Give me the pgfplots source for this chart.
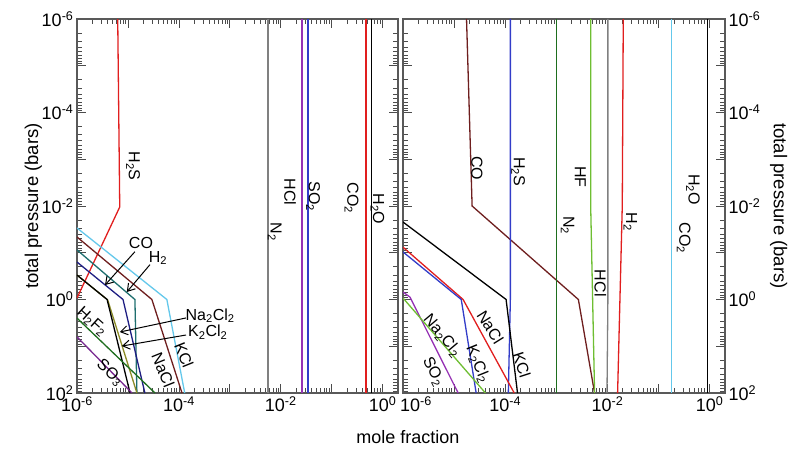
\documentclass[border=0pt]{standalone}
\usepackage{fontspec}
\setmainfont{Liberation Sans}
\usepackage{pgfplots}
\pgfplotsset{compat=1.18}
\usetikzlibrary{arrows.meta}
\definecolor{myred}{RGB}{225,30,30}
\definecolor{mygray}{RGB}{128,128,128}
\definecolor{mypurple}{RGB}{150,50,180}
\definecolor{myblue}{RGB}{50,60,200}
\definecolor{mynavy}{RGB}{30,30,130}
\definecolor{mycyan}{RGB}{100,200,235}
\definecolor{mymaroon}{RGB}{110,30,30}
\definecolor{myteal}{RGB}{30,110,110}
\definecolor{myolive}{RGB}{140,140,40}
\definecolor{mygreen}{RGB}{30,110,30}
\definecolor{mylgreen}{RGB}{110,190,50}
\newcommand{\tl}[1]{10\textsuperscript{#1}}
\newcommand{\labfont}{\fontsize{16}{18}\selectfont}
\begin{document}
\begin{tikzpicture}
\useasboundingbox (0,0) rectangle (800pt,453pt);
% ---------------- left panel ----------------
\begin{axis}[name=L, scale only axis, width=321pt, height=374pt, at={(77pt,60pt)}, anchor=south west,
  xmode=log, ymode=log, y dir=reverse,
  xmin=1e-6, xmax=1.995, ymin=1e-6, ymax=1e2,
  xtick={1e-6,1e-5,1e-4,1e-3,1e-2,1e-1,1},
  ytick={1e-6,1e-5,1e-4,1e-3,1e-2,1e-1,1,10,100},
  xticklabels={\tl{-6},,\tl{-4},,\tl{-2},,\tl{0}},
  yticklabels={\tl{-6},,\tl{-4},,\tl{-2},,\tl{0},,\tl{2}},
  minor xtick={2e-6,3e-6,4e-6,5e-6,6e-6,7e-6,8e-6,9e-6,2e-5,3e-5,4e-5,5e-5,6e-5,7e-5,8e-5,9e-5,2e-4,3e-4,4e-4,5e-4,6e-4,7e-4,8e-4,9e-4,2e-3,3e-3,4e-3,5e-3,6e-3,7e-3,8e-3,9e-3,0.02,0.03,0.04,0.05,0.06,0.07,0.08,0.09,0.2,0.3,0.4,0.5,0.6,0.7,0.8,0.9},
  minor ytick={2e-6,3e-6,4e-6,5e-6,6e-6,7e-6,8e-6,9e-6,2e-5,3e-5,4e-5,5e-5,6e-5,7e-5,8e-5,9e-5,2e-4,3e-4,4e-4,5e-4,6e-4,7e-4,8e-4,9e-4,2e-3,3e-3,4e-3,5e-3,6e-3,7e-3,8e-3,9e-3,0.02,0.03,0.04,0.05,0.06,0.07,0.08,0.09,0.2,0.3,0.4,0.5,0.6,0.7,0.8,0.9,2,3,4,5,6,7,8,9,20,30,40,50,60,70,80,90},
  tick align=inside, major tick length=9pt, minor tick length=5pt,
  major tick style={color=black!70, line width=0.8pt},
  minor tick style={color=black!70, line width=0.7pt},
  axis line style={black!65, line width=1.2pt},
  tick label style={font=\fontsize{18}{20}\selectfont},
  label style={font=\fontsize{18.5}{22}\selectfont},
  ylabel={total pressure (bars)}, ylabel shift=-7pt]
\addplot[myred, line width=1.3pt] coordinates {(6.3e-6,1e-6) (6.9e-6,0.0105) (1e-6,0.93)};
\addplot[mygray, line width=1.3pt] coordinates {(5.6e-3,1e-6) (5.6e-3,1e2)};
\addplot[mypurple, line width=1.3pt] coordinates {(0.026,1e-6) (0.026,1e2)};
\addplot[myblue, line width=1.3pt] coordinates {(0.034,1e-6) (0.034,1e2)};
\addplot[myred, line width=1.3pt] coordinates {(0.47,1e-6) (0.47,1e2)};
\addplot[black, line width=1.3pt] coordinates {(0.6,1e-6) (0.6,1e2)};
\addplot[mycyan, line width=1.3pt] coordinates {(1e-6,0.0295) (5.8e-5,1) (1.3e-4,100)};
\addplot[mymaroon, line width=1.3pt] coordinates {(1e-6,0.046) (2.95e-5,1) (1.15e-4,100)};
\addplot[myteal, line width=1.3pt] coordinates {(1e-6,0.087) (1.37e-5,1) (1.5e-5,100)};
\addplot[mynavy, line width=1.3pt] coordinates {(1e-6,0.158) (8e-6,1) (2.15e-5,100)};
\addplot[myolive, line width=1.3pt] coordinates {(1e-6,0.30) (4e-6,1.02) (1.5e-5,100)};
\addplot[black, line width=1.3pt] coordinates {(1e-6,0.30) (3.9e-6,1) (1.1e-5,100)};
\addplot[mygreen, line width=1.3pt] coordinates {(1e-6,2.5) (3.4e-5,100)};
\addplot[mypurple!80!black, line width=1.3pt] coordinates {(1e-6,6.3) (1.2e-5,100)};
\node[font=\labfont, inner sep=0pt, rotate=-90] at (axis cs:1.26e-5,1.4e-3) {H\textsubscript{2}S};
\node[font=\labfont, inner sep=0pt, rotate=-90] at (axis cs:0.0152,5e-3) {HCl};
\node[font=\labfont, inner sep=0pt, rotate=-90] at (axis cs:0.043,6.2e-3) {SO\textsubscript{2}};
\node[font=\labfont, inner sep=0pt, rotate=-90] at (axis cs:0.245,6.7e-3) {CO\textsubscript{2}};
\node[font=\labfont, inner sep=0pt, rotate=-90] at (axis cs:0.79,0.0115) {H\textsubscript{2}O};
\node[font=\labfont, inner sep=0pt, rotate=-90] at (axis cs:7.6e-3,0.036) {N\textsubscript{2}};
\node[font=\labfont, inner sep=0pt] at (axis cs:1.8e-5,0.062) {CO};
\node[font=\labfont, inner sep=0pt] at (axis cs:3.9e-5,0.13) {H\textsubscript{2}};
\node[font=\labfont, inner sep=0pt] at (axis cs:4.1e-4,2.24) {Na\textsubscript{2}Cl\textsubscript{2}};
\node[font=\labfont, inner sep=0pt] at (axis cs:3.7e-4,4.96) {K\textsubscript{2}Cl\textsubscript{2}};
\node[font=\labfont, inner sep=0pt, rotate=-42] at (axis cs:1.96e-6,3.0) {H\textsubscript{2}F\textsubscript{2}};
\node[font=\labfont, inner sep=0pt, rotate=-42] at (axis cs:4.4e-6,37) {SO\textsubscript{3}};
\node[font=\labfont, inner sep=0pt, rotate=-68] at (axis cs:4.9e-5,32) {NaCl};
\node[font=\labfont, inner sep=0pt, rotate=-68] at (axis cs:1.26e-4,15.5) {KCl};
\draw[black,line width=1pt,-{Straight Barb[length=7pt,width=9pt]}] (axis cs:1.37e-5,0.095) -- (axis cs:3.55e-6,0.49);
\draw[black,line width=1pt,-{Straight Barb[length=7pt,width=9pt]}] (axis cs:2.7e-5,0.18) -- (axis cs:9.5e-6,0.69);
\draw[black,line width=1pt,-{Straight Barb[length=7pt,width=9pt]}] (axis cs:1.38e-4,2.48) -- (axis cs:6.9e-6,4.96);
\draw[black,line width=1pt,-{Straight Barb[length=7pt,width=9pt]}] (axis cs:1.38e-4,5.75) -- (axis cs:7.6e-6,9.9);
\end{axis}
\node[anchor=base, font=\fontsize{18}{22}\selectfont, xshift=10pt, yshift=-50pt] at (L.south east) {mole fraction};
% ---------------- right panel ----------------
\begin{axis}[scale only axis, width=322pt, height=374pt, at={(403pt,60pt)}, anchor=south west,
  xmode=log, ymode=log, y dir=reverse,
  xmin=1e-6, xmax=1.995, ymin=1e-6, ymax=1e2,
  xtick={1e-6,1e-5,1e-4,1e-3,1e-2,1e-1,1},
  ytick={1e-6,1e-5,1e-4,1e-3,1e-2,1e-1,1,10,100},
  xticklabels={\hspace*{26pt}\tl{-6},,\tl{-4},,\tl{-2},,\tl{0}},
  yticklabels={\tl{-6},,\tl{-4},,\tl{-2},,\tl{0},,\tl{2}},
  minor xtick={2e-6,3e-6,4e-6,5e-6,6e-6,7e-6,8e-6,9e-6,2e-5,3e-5,4e-5,5e-5,6e-5,7e-5,8e-5,9e-5,2e-4,3e-4,4e-4,5e-4,6e-4,7e-4,8e-4,9e-4,2e-3,3e-3,4e-3,5e-3,6e-3,7e-3,8e-3,9e-3,0.02,0.03,0.04,0.05,0.06,0.07,0.08,0.09,0.2,0.3,0.4,0.5,0.6,0.7,0.8,0.9},
  minor ytick={2e-6,3e-6,4e-6,5e-6,6e-6,7e-6,8e-6,9e-6,2e-5,3e-5,4e-5,5e-5,6e-5,7e-5,8e-5,9e-5,2e-4,3e-4,4e-4,5e-4,6e-4,7e-4,8e-4,9e-4,2e-3,3e-3,4e-3,5e-3,6e-3,7e-3,8e-3,9e-3,0.02,0.03,0.04,0.05,0.06,0.07,0.08,0.09,0.2,0.3,0.4,0.5,0.6,0.7,0.8,0.9,2,3,4,5,6,7,8,9,20,30,40,50,60,70,80,90},
  tick align=inside, major tick length=9pt, minor tick length=5pt,
  major tick style={color=black!70, line width=0.8pt},
  minor tick style={color=black!70, line width=0.7pt},
  axis line style={black!65, line width=1.2pt},
  tick label style={font=\fontsize{18}{20}\selectfont},
  label style={font=\fontsize{18.5}{22}\selectfont},
  yticklabel pos=right,
  ylabel={total pressure (bars)}, ylabel style={rotate=180}, ylabel shift=3pt]
\addplot[mymaroon, line width=1.3pt] coordinates {(1.75e-5,1e-6) (2.25e-5,0.01) (2.7e-3,1) (5.6e-3,100)};
\addplot[myblue, line width=1.3pt] coordinates {(1.26e-4,1e-6) (1.26e-4,1) (1.15e-4,100)};
\addplot[mygreen, line width=1.3pt] coordinates {(1e-3,1e-6) (1e-3,100)};
\addplot[mylgreen, line width=1.3pt] coordinates {(4.7e-3,1e-6) (4.7e-3,0.01) (5.6e-3,100)};
\addplot[mygray, line width=1.3pt] coordinates {(0.0102,1e-6) (0.0102,1) (0.0098,100)};
\addplot[myred, line width=1.3pt] coordinates {(0.0204,1e-6) (0.0195,0.01) (0.0158,100)};
\addplot[mycyan, line width=1.3pt] coordinates {(0.18,1e-6) (0.18,100)};
\addplot[black, line width=1.3pt] coordinates {(0.91,1e-6) (0.91,100)};
\addplot[black, line width=1.3pt] coordinates {(1e-6,0.022) (1.04e-4,1) (1.74e-4,100)};
\addplot[myred, line width=1.3pt] coordinates {(1e-6,0.076) (1.5e-5,1) (1.5e-4,100)};
\addplot[myblue, line width=1.3pt] coordinates {(1e-6,0.096) (1.38e-5,1) (2.7e-5,100)};
\addplot[mypurple, line width=1.3pt] coordinates {(1e-6,0.69) (1.37e-6,0.89) (1.2e-5,100)};
\addplot[mylgreen, line width=1.3pt] coordinates {(1e-6,0.93) (4.1e-5,100)};
\node[font=\labfont, inner sep=0pt, rotate=-90] at (axis cs:2.8e-5,1.56e-3) {CO};
\node[font=\labfont, inner sep=0pt, rotate=-90] at (axis cs:1.8e-4,1.86e-3) {H\textsubscript{2}S};
\node[font=\labfont, inner sep=0pt, rotate=-90] at (axis cs:2.95e-3,2.4e-3) {HF};
\node[font=\labfont, inner sep=0pt, rotate=-90] at (axis cs:1.66e-3,0.026) {N\textsubscript{2}};
\node[font=\labfont, inner sep=0pt, rotate=-90] at (axis cs:0.028,0.022) {H\textsubscript{2}};
\node[font=\labfont, inner sep=0pt, rotate=-90] at (axis cs:7.3e-3,0.45) {HCl};
\node[font=\labfont, inner sep=0pt, rotate=-90] at (axis cs:0.47,4.5e-3) {H\textsubscript{2}O};
\node[font=\labfont, inner sep=0pt, rotate=-90] at (axis cs:0.31,0.048) {CO\textsubscript{2}};
\node[font=\labfont, inner sep=0pt, rotate=-58] at (axis cs:5.1e-5,3.9) {NaCl};
\node[font=\labfont, inner sep=0pt, rotate=-72] at (axis cs:2.1e-4,25) {KCl};
\node[font=\labfont, inner sep=0pt, rotate=-68] at (axis cs:2.9e-5,24) {K\textsubscript{2}Cl\textsubscript{2}};
\node[font=\labfont, inner sep=0pt, rotate=-50] at (axis cs:5.8e-6,6.0) {Na\textsubscript{2}Cl\textsubscript{2}};
\node[font=\labfont, inner sep=0pt, rotate=-63] at (axis cs:3.9e-6,35) {SO\textsubscript{2}};
\end{axis}
\end{tikzpicture}
\end{document}
